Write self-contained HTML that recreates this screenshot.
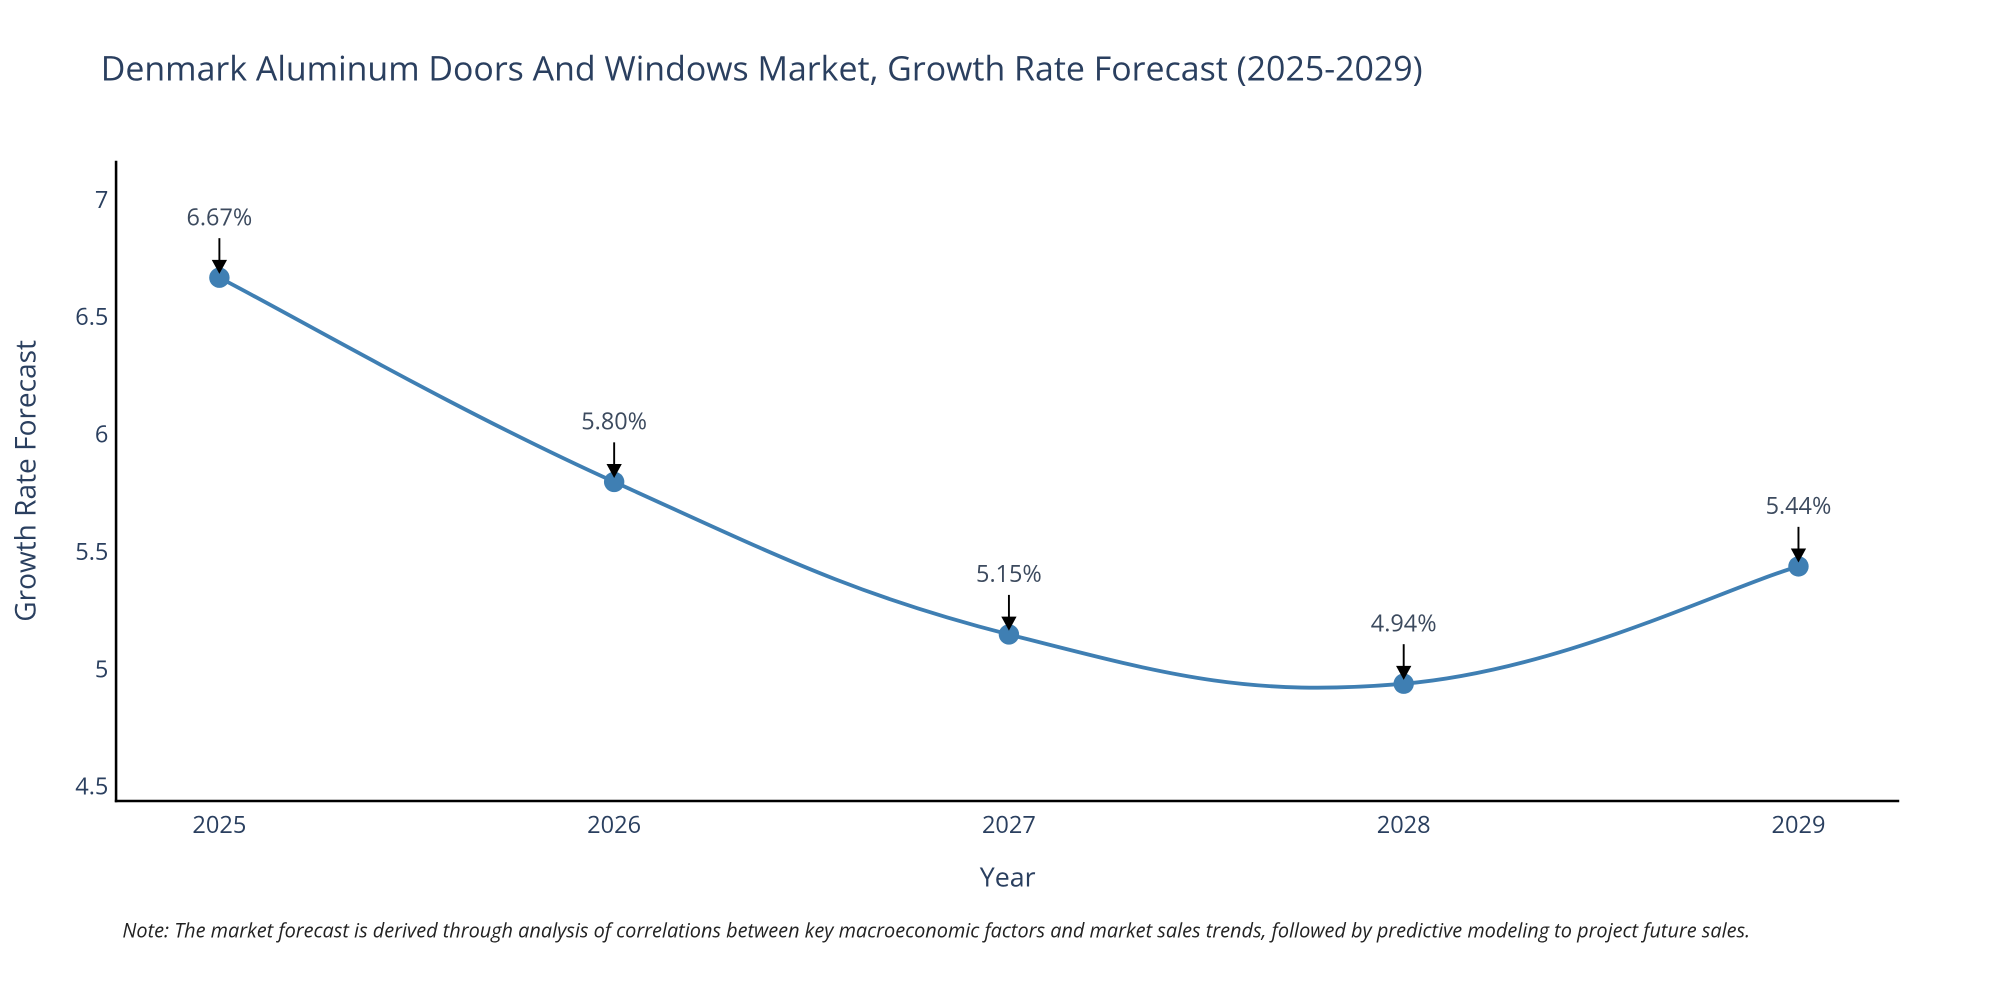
<!DOCTYPE html>
<html><head><meta charset="utf-8"><style>
html,body{margin:0;padding:0;background:#fff}
svg{display:block;font-family:"Open Sans","Liberation Sans",sans-serif}
</style></head><body>
<svg id="chart" width="2000" height="1000" viewBox="0 0 1568 784">
<text x="79" y="63" font-size="26.6" fill="#2a3f5f">Denmark Aluminum Doors And Windows Market, Growth Rate Forecast (2025-2029)</text>
<g id="yticks"></g>
<g id="xticks"></g>
<line x1="91" y1="126" x2="91" y2="629" stroke="#000" stroke-width="2"/>
<line x1="90" y1="628" x2="1489" y2="628" stroke="#000" stroke-width="2"/>
<path id="line" fill="none" stroke="#3f7fb3" stroke-width="3"/>
<g id="marks"></g>
<text x="790" y="695" font-size="21" fill="#2a3f5f" text-anchor="middle">Year</text>
<text transform="translate(28,377) rotate(-90)" font-size="22" fill="#2a3f5f" text-anchor="middle">Growth Rate Forecast</text>
<text x="96" y="735" font-size="15.6" font-style="italic" fill="#222">Note: The market forecast is derived through analysis of correlations between key macroeconomic factors and market sales trends, followed by predictive modeling to project future sales.</text>
</svg>
<script>
const years=["2025","2026","2027","2028","2029"];
const values=[6.67,5.80,5.15,4.94,5.44];
const labels=["6.67%","5.80%","5.15%","4.94%","5.44%"];
const yTicks=[4.5,5,5.5,6,6.5,7];
const NS="http://www.w3.org/2000/svg";
function xs(i){return 172+i*309.5;}
function ys(v){return 157+(7-v)*184;}
function mk(t,a,p){const e=document.createElementNS(NS,t);for(const k in a)e.setAttribute(k,a[k]);p.appendChild(e);return e;}
const yg=document.getElementById('yticks');
yTicks.forEach(v=>{const t=mk('text',{x:85,y:ys(v)+6,'font-size':18.5,fill:'#2a3f5f','text-anchor':'end'},yg);


t.textContent=String(v);});
const xg=document.getElementById('xticks');
years.forEach((y,i)=>{const t=mk('text',{x:xs(i),y:653,'font-size':18.5,fill:'#2a3f5f','text-anchor':'middle'},xg);


t.textContent=y;});
const pts=values.map((v,i)=>[xs(i),ys(v)]);
let d='M'+pts[0][0]+','+pts[0][1];const s=0.2;
for(let i=0;i<pts.length-1;i++){const p0=pts[Math.max(0,i-1)],p1=pts[i],p2=pts[i+1],p3=pts[Math.min(pts.length-1,i+2)];
const c1=[p1[0]+(p2[0]-p0[0])*s,p1[1]+(p2[1]-p0[1])*s],c2=[p2[0]-(p3[0]-p1[0])*s,p2[1]-(p3[1]-p1[1])*s];
d+=' C'+c1+' '+c2+' '+p2;}
document.getElementById('line').setAttribute('d',d);
const mg=document.getElementById('marks');
pts.forEach((p,i)=>{
const c=mk('circle',{cx:p[0],cy:p[1],r:8,fill:'#3f7fb3'},mg);


const l=mk('line',{x1:p[0],y1:p[1]-31,x2:p[0],y2:p[1]-12,stroke:'#000','stroke-width':1.5},mg);


const a=mk('polygon',{points:(p[0]-6)+','+(p[1]-14)+' '+(p[0]+6)+','+(p[1]-14)+' '+p[0]+','+(p[1]-3),fill:'#000'},mg);


const t=mk('text',{x:p[0],y:p[1]-41,'font-size':18.4,fill:'#3c4a5e','text-anchor':'middle'},mg);


t.textContent=labels[i];});
</script>
</body></html>
